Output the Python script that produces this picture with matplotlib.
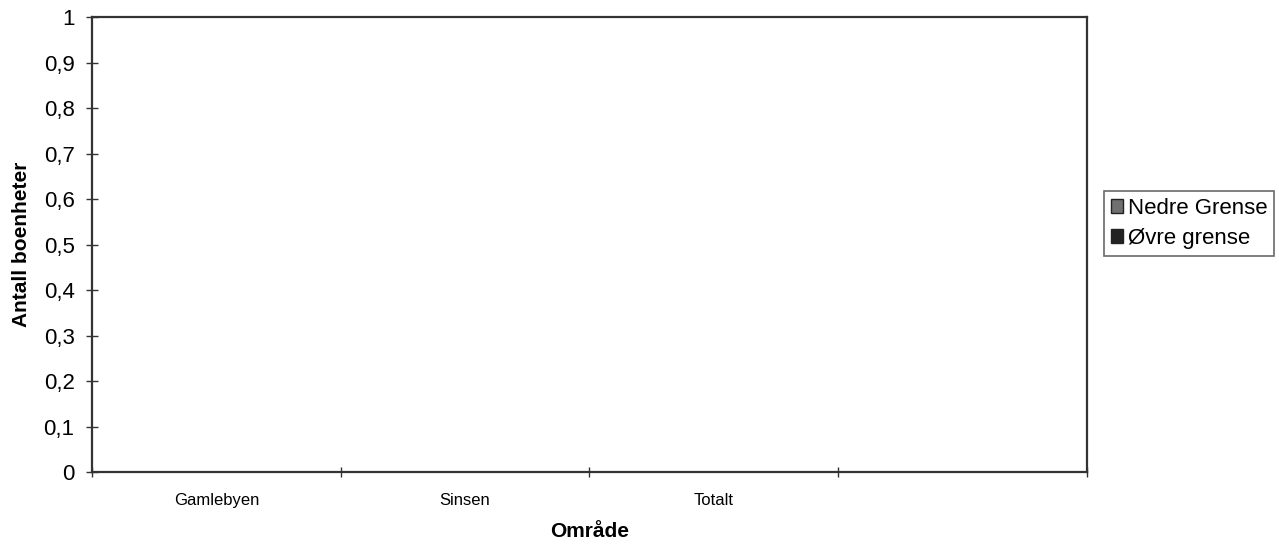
import numpy as np
import matplotlib.pyplot as plt
from matplotlib.patches import Patch
from matplotlib.ticker import FuncFormatter

plt.rcParams['font.family'] = ['Liberation Sans', 'DejaVu Sans']

# areas and the two limits (no units recorded, so every bar is zero)
omrader = ['Gamlebyen', 'Sinsen', 'Totalt', '']
nedre_grense = [0, 0, 0, 0]
ovre_grense = [0, 0, 0, 0]
serier = ['Nedre Grense', 'Øvre grense']
farger = ['#707070', '#222222']

fig = plt.figure(figsize=(12.79, 5.45), dpi=100)
ax = fig.add_axes([0.0719, 0.1339, 0.7780, 0.8349])

x = np.arange(len(omrader))
w = 0.35
ax.bar(x - w / 2, nedre_grense, w, color=farger[0])
ax.bar(x + w / 2, ovre_grense, w, color=farger[1])

ax.set_xlim(-0.5, len(omrader) - 0.5)
ax.set_ylim(0, 1)
ax.set_yticks(np.arange(0, 1.01, 0.1))
ax.yaxis.set_major_formatter(FuncFormatter(
    lambda v, p: ('%g' % round(v, 1)).replace('.', ',')))

# category ticks sit between the areas, labels in the middle
ax.set_xticks(np.arange(-0.5, len(omrader), 1))
ax.set_xticklabels([])
ax.set_xticks(x, minor=True)
ax.set_xticklabels(omrader, minor=True, fontsize=12)
ax.tick_params(axis='x', which='minor', length=0, pad=15)
ax.tick_params(axis='x', which='major', direction='inout', length=7, width=1, color='#333333')
ax.tick_params(axis='y', direction='inout', length=9, width=1, color='#333333',
               labelsize=16, pad=8)

for s in ax.spines.values():
    s.set_color('#333333')
    s.set_linewidth(1.6)

ax.set_ylabel('Antall boenheter', fontsize=15, fontweight='bold', labelpad=9)
ax.set_xlabel('Område', fontsize=15, fontweight='bold', labelpad=10)

handles = [Patch(facecolor=farger[0], edgecolor='#222222'),
           Patch(facecolor=farger[1], edgecolor='#222222')]
leg = fig.legend(handles, serier, loc='center left', bbox_to_anchor=(0.8635, 0.59),
                 fontsize=16, frameon=True, fancybox=False, handlelength=0.55,
                 handleheight=0.55, handletextpad=0.2, borderpad=0.3,
                 labelspacing=0.4, borderaxespad=0)
leg.get_frame().set_edgecolor('#444444')
leg.get_frame().set_linewidth(1.2)

fig.savefig('out.png', dpi=100)
